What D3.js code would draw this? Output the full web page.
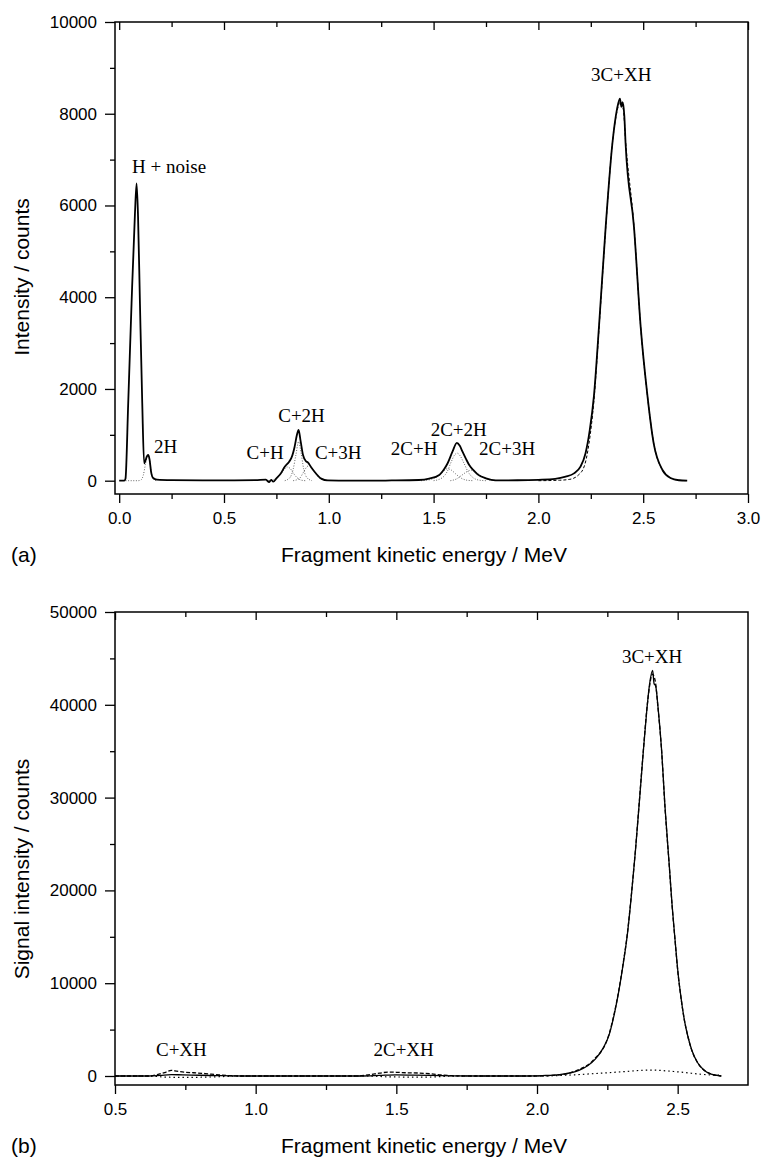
<!DOCTYPE html>
<html>
<head>
<meta charset="utf-8">
<script src="https://cdn.jsdelivr.net/npm/d3@7"></script>
<style>
  body { margin: 0; background: #fff; }
  svg { display: block; }
  .axis text { font-family: "Liberation Sans", Arial, Helvetica, sans-serif; font-size: 17px; fill: #000; }
  .axis line { stroke: #000; stroke-width: 1.3; }
  .title { font-family: "Liberation Sans", Arial, Helvetica, sans-serif; font-size: 21px; fill: #000; }
  .peak { font-family: "Liberation Serif", "Times New Roman", serif; font-size: 19px; fill: #000; }
</style>
</head>
<body>
<div id="chart"></div>
<script>
// ---- panel (a): fragment spectrum, [energy MeV, counts]
const spectrumA = [
  [0, 0], [0.025, 0], [0.030, 40], [0.043, 1690], [0.059, 3870], [0.075, 5800], [0.083, 6480],
  [0.090, 5750], [0.099, 3870], [0.110, 1690], [0.119, 380], [0.126, 450], [0.132, 530], [0.138, 560],
  [0.145, 460], [0.152, 200], [0.162, 60], [0.18, 25], [0.25, 12], [0.40, 6], [0.55, 8], [0.65, 12],
  [0.70, 25], [0.715, -30], [0.725, 20], [0.735, -20], [0.75, 50], [0.77, 150], [0.789, 300], [0.81, 410],
  [0.821, 490], [0.837, 741], [0.848, 1000], [0.856, 1110], [0.865, 880], [0.877, 560], [0.89, 430],
  [0.90, 400], [0.915, 300], [0.932, 196], [0.95, 100], [0.964, 45], [0.995, 5], [1.1, 0], [1.3, 5],
  [1.43, 15], [1.479, 45], [1.527, 124], [1.55, 250], [1.567, 380], [1.59, 632], [1.611, 825],
  [1.625, 760], [1.638, 632], [1.655, 470], [1.67, 342], [1.69, 230], [1.71, 139], [1.75, 52],
  [1.797, 8], [1.9, 10], [2.0, 20], [2.08, 40], [2.13, 87], [2.17, 160], [2.20, 300], [2.225, 600],
  [2.245, 1100], [2.265, 1850], [2.289, 3355], [2.321, 5534], [2.353, 7351], [2.375, 8100],
  [2.389, 8331], [2.396, 8150], [2.402, 8250], [2.41, 7950], [2.416, 7351], [2.456, 5534],
  [2.488, 3355], [2.519, 1904], [2.55, 815], [2.592, 233], [2.63, 60], [2.67, 10], [2.71, 0]
];
// fitted 3C+XH envelope (dashed)
const fitA3C = [
  [2.0, 0], [2.10, 10], [2.15, 30], [2.19, 120], [2.22, 330], [2.241, 800], [2.265, 1750],
  [2.289, 3300], [2.321, 5500], [2.353, 7350], [2.375, 8050], [2.39, 8250], [2.405, 8100],
  [2.416, 7400], [2.456, 5550], [2.488, 3350], [2.519, 1900], [2.55, 820], [2.592, 230],
  [2.63, 60], [2.67, 10], [2.71, 0]
];
// fitted components (dotted)
const comp2H = [[0.03, 0], [0.09, 0], [0.105, 20], [0.115, 120], [0.125, 350], [0.132, 500], [0.138, 545], [0.145, 450], [0.152, 220], [0.16, 60], [0.17, 10], [0.18, 0]];
const compCH = [[0.70, 0], [0.74, 30], [0.765, 110], [0.785, 230], [0.80, 300], [0.815, 270], [0.83, 170], [0.85, 60], [0.87, 10], [0.89, 0]];
const compC2H = [[0.79, 0], [0.815, 70], [0.83, 250], [0.843, 560], [0.856, 850], [0.868, 600], [0.88, 260], [0.895, 70], [0.92, 0]];
const compC3H = [[0.83, 0], [0.86, 50], [0.88, 190], [0.895, 300], [0.905, 330], [0.92, 270], [0.94, 140], [0.96, 40], [0.99, 0]];
const comp2CH = [[1.44, 0], [1.49, 30], [1.52, 100], [1.545, 200], [1.565, 260], [1.585, 230], [1.605, 150], [1.63, 60], [1.66, 10], [1.69, 0]];
const comp2C2H = [[1.50, 0], [1.54, 60], [1.565, 200], [1.585, 420], [1.60, 560], [1.613, 600], [1.627, 540], [1.645, 380], [1.665, 190], [1.69, 60], [1.72, 10], [1.75, 0]];
const comp2C3H = [[1.58, 0], [1.61, 40], [1.635, 120], [1.66, 200], [1.68, 230], [1.70, 190], [1.725, 110], [1.75, 40], [1.78, 5], [1.80, 0]];

// peak labels: text, energy, counts (baseline of text)
const labelsA = [
  ['H + noise', 0.238, 6700], ['2H', 0.222, 604], ['C+H', 0.696, 466], ['C+2H', 0.870, 1286],
  ['C+3H', 1.045, 466], ['2C+H', 1.407, 560], ['2C+2H', 1.620, 975], ['2C+3H', 1.851, 560],
  ['3C+XH', 2.395, 8720]
];

// ---- panel (b): signal intensity
const spectrumB = [
  [0.5, 0], [0.62, 0], [0.66, 60], [0.70, 150], [0.74, 120], [0.80, 80], [0.86, 40], [0.95, 0],
  [1.38, 0], [1.44, 60], [1.50, 120], [1.56, 90], [1.62, 60], [1.70, 20], [1.80, 0], [1.95, 0],
  [2.018, 50], [2.08, 150], [2.12, 350], [2.149, 614], [2.18, 1100], [2.208, 1840], [2.235, 3000],
  [2.256, 4400], [2.275, 6700], [2.29, 9000], [2.305, 11800], [2.321, 15200], [2.335, 19300],
  [2.35, 24300], [2.365, 30000], [2.378, 35000], [2.39, 39300], [2.40, 42200], [2.411, 43700],
  [2.416, 42300], [2.422, 42000], [2.43, 39800], [2.443, 35090], [2.455, 29000], [2.47, 22780],
  [2.48, 18500], [2.491, 14570], [2.50, 11500], [2.512, 8420], [2.524, 6000], [2.536, 4310],
  [2.55, 2800], [2.571, 1430], [2.595, 600], [2.619, 200], [2.655, 0]
];
const dashedB = [
  [0.5, 0], [0.62, 0], [0.65, 150], [0.68, 400], [0.70, 600], [0.72, 520], [0.745, 420], [0.78, 350],
  [0.82, 260], [0.86, 150], [0.90, 50], [0.95, 0], [1.36, 0], [1.40, 120], [1.44, 300], [1.47, 420],
  [1.50, 400], [1.54, 340], [1.58, 320], [1.62, 240], [1.66, 120], [1.70, 30], [1.74, 0], [2.0, 0],
  [2.08, 130], [2.15, 700], [2.20, 1700], [2.256, 4500], [2.275, 6800], [2.29, 9100], [2.305, 11900],
  [2.321, 15300], [2.335, 19400], [2.35, 24400], [2.365, 30100], [2.378, 35100], [2.39, 39400],
  [2.40, 42000], [2.41, 43300], [2.42, 42600], [2.43, 39700], [2.443, 35000], [2.455, 28900],
  [2.47, 22700], [2.48, 18400], [2.491, 14500], [2.50, 11400], [2.512, 8400], [2.524, 6000],
  [2.536, 4300], [2.55, 2790], [2.571, 1420], [2.60, 500], [2.64, 60], [2.655, 0]
];
const dottedB = [
  [0.5, 0], [0.62, 0], [0.68, -120], [0.75, -150], [0.85, -100], [0.95, 0], [1.40, 0], [1.48, -100],
  [1.60, -120], [1.72, 0], [2.0, 0], [2.1, 80], [2.2, 250], [2.3, 450], [2.4, 640], [2.5, 450],
  [2.6, 150], [2.655, 80]
];
const labelsB = [['C+XH', 0.736, 2155], ['2C+XH', 1.526, 2155], ['3C+XH', 2.409, 44500]];

const ticksXA = [0, 0.5, 1.0, 1.5, 2.0, 2.5, 3.0];
const minorXA = [0.25, 0.75, 1.25, 1.75, 2.25, 2.75];
const ticksYA = [0, 2000, 4000, 6000, 8000, 10000];
const minorYA = [1000, 3000, 5000, 7000, 9000];
const ticksXB = [0.5, 1.0, 1.5, 2.0, 2.5];
const minorXB = [0.75, 1.25, 1.75, 2.25];
const ticksYB = [0, 10000, 20000, 30000, 40000, 50000];
const minorYB = [5000, 15000, 25000, 35000, 45000];

const W = 762, H = 1157;
const svg = d3.select('#chart').append('svg').attr('width', W).attr('height', H);
svg.append('rect').attr('width', W).attr('height', H).attr('fill', '#fff');

function drawPanel(p) {
  const x = d3.scaleLinear().domain(p.xDomain).range([p.left, p.right]);
  const y = d3.scaleLinear().domain(p.yDomain).range([p.bottom, p.top]);
  const g = svg.append('g');
  const fmtX = d3.format('.1f');

  // bottom axis, outward ticks
  g.append('g').attr('class', 'axis').attr('transform', `translate(0,${p.bottom})`)
    .call(d3.axisBottom(x).tickValues(p.ticksX).tickSize(9).tickPadding(9).tickFormat(fmtX));
  g.append('g').attr('class', 'axis').attr('transform', `translate(0,${p.bottom})`)
    .call(d3.axisBottom(x).tickValues(p.minorX).tickSize(5).tickFormat(''));
  // top axis, ticks pointing into the frame
  g.append('g').attr('class', 'axis').attr('transform', `translate(0,${p.top})`)
    .call(d3.axisBottom(x).tickValues(p.ticksX).tickSize(8).tickFormat(''));
  g.append('g').attr('class', 'axis').attr('transform', `translate(0,${p.top})`)
    .call(d3.axisBottom(x).tickValues(p.minorX).tickSize(5).tickFormat(''));
  // left axis
  g.append('g').attr('class', 'axis').attr('transform', `translate(${p.left},0)`)
    .call(d3.axisLeft(y).tickValues(p.ticksY).tickSize(10).tickPadding(8).tickFormat(d3.format('d')));
  g.append('g').attr('class', 'axis').attr('transform', `translate(${p.left},0)`)
    .call(d3.axisLeft(y).tickValues(p.minorY).tickSize(5).tickFormat(''));
  g.selectAll('.domain').remove();

  g.append('rect')
    .attr('x', p.left).attr('y', p.top)
    .attr('width', p.right - p.left).attr('height', p.bottom - p.top)
    .attr('fill', 'none').attr('stroke', '#000').attr('stroke-width', 1.5);

  const line = d3.line().x(d => x(d[0])).y(d => y(d[1])).curve(d3.curveMonotoneX);

  p.series.forEach(s => {
    g.append('path').datum(s.data)
      .attr('d', line)
      .attr('fill', 'none')
      .attr('stroke', s.color || '#000')
      .attr('stroke-width', s.width)
      .attr('stroke-dasharray', s.dash || null)
      .attr('stroke-linejoin', 'round');
  });

  g.selectAll('text.peak').data(p.labels).enter().append('text')
    .attr('class', 'peak')
    .attr('x', d => x(d[1])).attr('y', d => y(d[2]))
    .attr('text-anchor', 'middle')
    .text(d => d[0]);

  // axis titles
  g.append('text').attr('class', 'title')
    .attr('x', 424).attr('y', p.bottom + 68)
    .attr('text-anchor', 'middle').text(p.xTitle);
  g.append('text').attr('class', 'title')
    .attr('transform', `translate(29,${p.yTitleMid}) rotate(-90)`)
    .attr('text-anchor', 'middle').text(p.yTitle);
  g.append('text').attr('class', 'title')
    .attr('x', 11).attr('y', p.bottom + 68).text(p.tag);
}

drawPanel({
  xDomain: [-0.02, 3.0], yDomain: [-290, 10000],
  left: 115, right: 748, top: 22, bottom: 494,
  ticksX: ticksXA, minorX: minorXA, ticksY: ticksYA, minorY: minorYA,
  series: [
    { data: comp2H, width: 0.9, dash: '1,1.6', color: '#555' },
    { data: compCH, width: 0.9, dash: '1,1.6', color: '#555' },
    { data: compC2H, width: 0.9, dash: '1,1.6', color: '#555' },
    { data: compC3H, width: 0.9, dash: '1,1.6', color: '#555' },
    { data: comp2CH, width: 0.9, dash: '1,1.6', color: '#555' },
    { data: comp2C2H, width: 0.9, dash: '1,1.6', color: '#555' },
    { data: comp2C3H, width: 0.9, dash: '1,1.6', color: '#555' },
    { data: fitA3C, width: 1, dash: '3,2' },
    { data: spectrumA, width: 1.8 }
  ],
  labels: labelsA,
  xTitle: 'Fragment kinetic energy / MeV', yTitle: 'Intensity / counts', yTitleMid: 277, tag: '(a)'
});

drawPanel({
  xDomain: [0.5, 2.75], yDomain: [-970, 50000],
  left: 115, right: 748, top: 612, bottom: 1085,
  ticksX: ticksXB, minorX: minorXB, ticksY: ticksYB, minorY: minorYB,
  series: [
    { data: dottedB, width: 1.2, dash: '1.5,3' },
    { data: dashedB, width: 1.3, dash: '4,2' },
    { data: spectrumB, width: 1.3 }
  ],
  labels: labelsB,
  xTitle: 'Fragment kinetic energy / MeV', yTitle: 'Signal intensity / counts', yTitleMid: 869, tag: '(b)'
});
</script>
</body>
</html>
